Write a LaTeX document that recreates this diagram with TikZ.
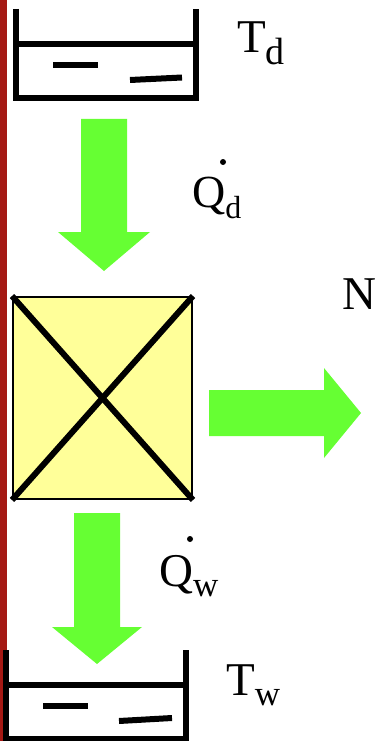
\documentclass[tikz,border=0pt]{standalone}
\usepackage{fontspec}
\setmainfont{Liberation Serif}
\definecolor{flowgreen}{RGB}{102,255,51}
\definecolor{engineyellow}{RGB}{255,255,153}
\definecolor{sidered}{RGB}{165,25,20}
\tikzset{
  wall/.style={line width=6pt},
  ripple/.style={line width=6pt},
  bigtext/.style={inner sep=0pt,anchor=base west,font=\fontsize{47}{50}\selectfont},
}
\begin{document}
\begin{tikzpicture}[x=1pt,y=-1pt]
\useasboundingbox (0,0) rectangle (378,741);

% Red bar on the left
\fill[sidered] (0,0) rectangle (7,741);

% Hot reservoir
\draw[wall] (16,9) -- (16,98.5) -- (196,98.5) -- (196,9);
\draw[wall] (16,44) -- (196,44);
\draw[ripple] (53,65) -- (98,65);
\draw[ripple] (130,80) -- (182,77.5);
\coordinate (hot) at (104,98.5);
\node[bigtext] (td) at (237,53) {T\raisebox{-12pt}{\fontsize{38}{40}\selectfont d}};

% Heat in
\fill[flowgreen] (81,119) -- (127,119) -- (127,232) -- (150,232) -- (104,271)
  -- (58,232) -- (81,232) -- cycle;
\node[bigtext,font=\fontsize{46}{48}\selectfont] (qd) at (192,207) {Q\raisebox{-11pt}{\fontsize{32}{34}\selectfont d}};
\fill (223,162) circle (3);

% Engine
\node[draw,line width=2pt,fill=engineyellow,minimum width=179pt,minimum height=202pt,
  inner sep=0pt] (engine) at (102.5,398) {};
\draw[line width=6pt] (engine.north west) -- (engine.south east);
\draw[line width=6pt] (engine.north east) -- (engine.south west);

% Work out
\fill[flowgreen] (209,390) -- (324,390) -- (324,368) -- (361,413) -- (324,458)
  -- (324,436) -- (209,436) -- cycle;
\node[bigtext] (n) at (342,309) {N};

% Heat out
\fill[flowgreen] (74,513) -- (120,513) -- (120,627) -- (142,627) -- (97,664)
  -- (52,627) -- (74,627) -- cycle;
\node[bigtext,font=\fontsize{47}{48}\selectfont] (qw) at (159,586) {Q\raisebox{-10pt}{\fontsize{35}{36}\selectfont w}};
\fill (190,539) circle (3);

% Cold reservoir
\draw[wall] (6,650) -- (6,739) -- (186,739) -- (186,650);
\draw[wall] (6,684.5) -- (186,684.5);
\draw[ripple] (43,706) -- (88,706);
\draw[ripple] (119,721) -- (172,718);
\coordinate (cold) at (97,650);
\node[bigtext] (tw) at (226,695) {T\raisebox{-10pt}{\fontsize{35}{36}\selectfont w}};

\end{tikzpicture}
\end{document}
